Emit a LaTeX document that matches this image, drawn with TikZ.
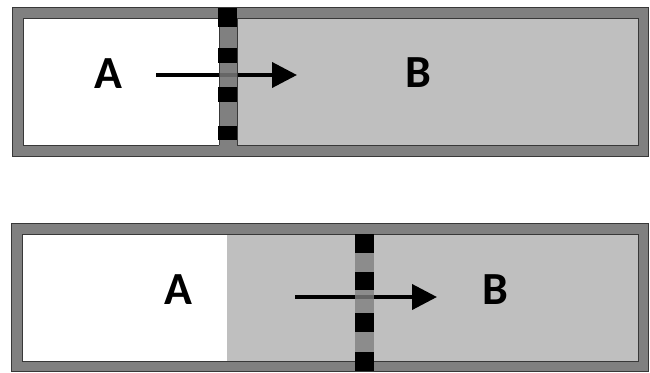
\documentclass[tikz,border=0pt]{standalone}
\usepackage{fontspec}
\setmainfont{Carlito}
\usetikzlibrary{arrows.meta}
\definecolor{framegray}{gray}{0.5}
\definecolor{lightgray}{gray}{0.75}
\definecolor{edge}{gray}{0.22}
\tikzset{
  frame/.style={fill=framegray,draw=edge,line width=1pt},
  chamber/.style={draw=edge,line width=1pt},
  blk/.style={fill=black},
  membr/.style={fill=framegray,fill opacity=0.8},
  lbl/.style={font=\fontsize{46}{46}\selectfont\bfseries,inner sep=0pt,anchor=center},
  flux/.style={line width=4pt,-{Triangle[length=25pt,width=25pt]}}
}
\begin{document}
\begin{tikzpicture}[x=1pt,y=-1pt]
\useasboundingbox (0,0) rectangle (650,372);
% ---------- top panel ----------
\draw[frame] (12,7.5) rectangle (648,156);
\fill[white] (23,18) rectangle (219,145);
\fill[lightgray] (237,18) rectangle (638,145);
\draw[chamber] (23,18) rectangle (638,145);
\node[lbl] (A1) at (108,74) {A};
\node[lbl] (B1) at (418,73) {B};
\coordinate (s1) at (156,75);
\coordinate (e1) at (297,75);
\draw[flux] (s1) -- (e1);
\fill[framegray] (219,7.5) rectangle (237,18);
\fill[framegray] (219,145) rectangle (237,156);
\fill[membr] (219,18) rectangle (237,145);
\draw[edge,line width=0.8pt] (219,18) -- (219,145) (237,18) -- (237,145);
\draw[edge,line width=1pt] (12,156) -- (648,156);
\fill[blk] (218,8) rectangle (237,27);
\fill[blk] (218,48) rectangle (237,63);
\fill[blk] (218,87) rectangle (237,102);
\fill[blk] (218,126) rectangle (237,140);
% ---------- bottom panel ----------
\draw[frame] (11,223) rectangle (648,371);
\fill[white] (22,234) rectangle (227,361);
\fill[lightgray] (227,234) rectangle (638,361);
\draw[chamber] (22,234) rectangle (638,361);
\node[lbl] (A2) at (178,290) {A};
\node[lbl] (B2) at (495,290) {B};
\coordinate (s2) at (295,297);
\coordinate (e2) at (437,297);
\draw[flux] (s2) -- (e2);
\fill[membr] (355,234) rectangle (374,371);
\fill[blk] (355,234) rectangle (374,253);
\fill[blk] (355,272) rectangle (374,290);
\fill[blk] (355,313) rectangle (374,332);
\fill[blk] (355,352) rectangle (374,371);
\end{tikzpicture}
\end{document}
